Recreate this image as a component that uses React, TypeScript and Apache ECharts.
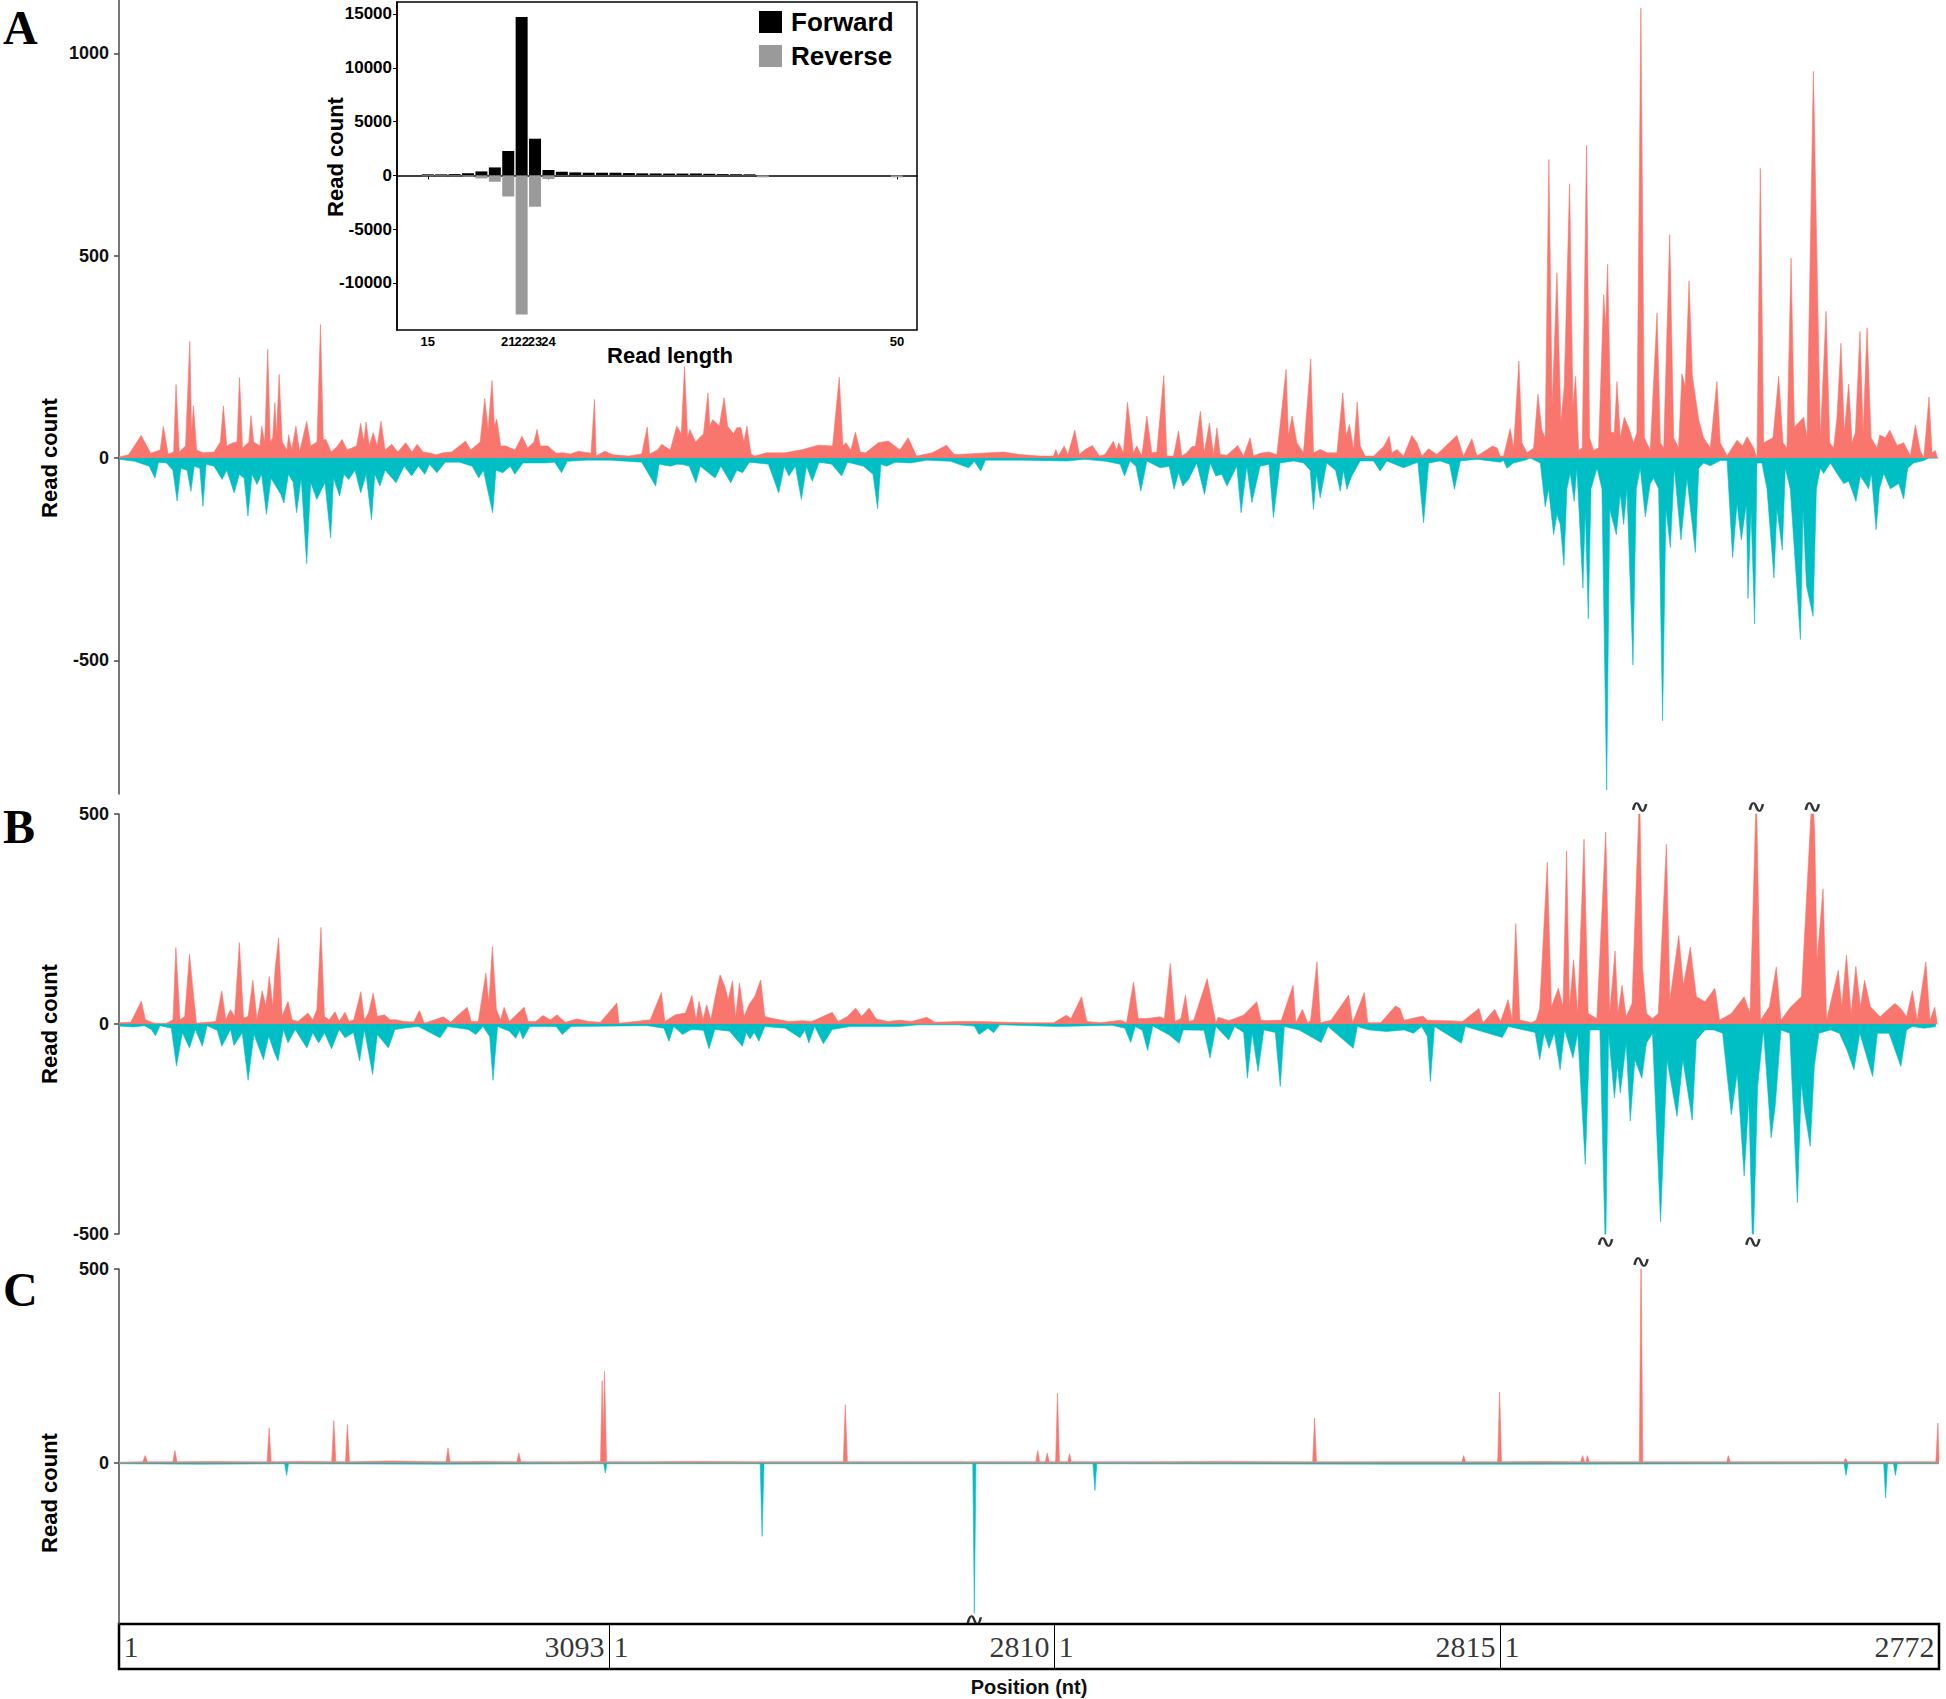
import React, { useEffect, useRef } from "react";
import * as echarts from "echarts";

const RED = "#F8766D";
const CYAN = "#00BFC4";
const SANS = '"Liberation Sans", Arial, sans-serif';
const SERIF = '"Liberation Serif", "Times New Roman", serif';

// genome segments (nt)
const segmentLengths = [3093, 2810, 2815, 2772];

// inset: read length distribution
const readLengths = [15, 16, 17, 18, 19, 20, 21, 22, 23, 24, 25, 26, 27, 28, 29, 30, 31, 32, 33, 34, 35, 36, 37, 38, 39, 40, 50];
const forwardCounts = [100, 100, 120, 200, 370, 740, 2260, 14720, 3410, 500, 340, 280, 250, 250, 250, 220, 190, 180, 170, 170, 180, 150, 120, 110, 100, 0, 0];
const reverseCounts = [-80, -80, -80, -120, -280, -590, -1950, -12920, -2910, -340, -40, -30, -30, -30, -30, -30, -30, -30, -30, -30, -30, -30, -30, -30, -30, -180, -180];
const insetLengthTicks = [15, 21, 22, 23, 24, 50];
const insetCountTicks = [-10000, -5000, 0, 5000, 10000, 15000];

// panel tick values
const aTicks = [-500, 0, 500, 1000];
const bTicks = [-500, 0, 500];
const cTicks = [0, 500];

// Panel A coverage (global position, read count)
const aForward: [number, number][] = [
  [0, 3], [60, 8], [140, 56], [200, 12], [260, 20], [280, 79], [310, 10], [345, 15], [360, 182], [380, 15], [420, 30], [447, 288], [458, 60], [470, 129], [490, 20], [530, 13], [600, 15], [640, 40], [659, 129], [680, 30], [720, 38], [745, 40], [761, 199], [780, 25], [820, 40], [833, 105], [850, 40], [890, 30], [901, 79], [920, 40], [939, 269], [955, 40], [970, 50], [984, 137], [995, 60], [1011, 207], [1030, 40], [1060, 20], [1071, 58], [1090, 20], [1117, 79], [1140, 15], [1185, 91], [1210, 30], [1250, 40], [1272, 330], [1290, 45], [1306, 46], [1340, 15], [1380, 30], [1408, 46], [1440, 20], [1500, 30], [1526, 86], [1545, 40], [1560, 89], [1580, 30], [1605, 63], [1630, 30], [1654, 91], [1680, 20], [1722, 34], [1760, 15], [1810, 38], [1850, 15], [1882, 34], [1920, 15], [1969, 12], [2000, 8], [2044, 13], [2100, 15], [2188, 42], [2220, 20], [2280, 40], [2309, 147], [2330, 70], [2355, 192], [2370, 80], [2385, 96], [2410, 30], [2442, 30], [2500, 20], [2544, 54], [2580, 25], [2620, 40], [2639, 71], [2660, 30], [2707, 30], [2760, 12], [2802, 13], [2850, 10], [2900, 17], [2980, 12], [3002, 145], [3012, 5], [3067, 17], [3120, 8], [3218, 5], [3300, 10], [3335, 77], [3350, 10], [3400, 20], [3426, 34], [3480, 20], [3521, 79], [3550, 60], [3570, 227], [3590, 50], [3604, 71], [3640, 40], [3690, 60], [3718, 161], [3730, 80], [3748, 95], [3790, 80], [3820, 149], [3842, 79], [3880, 60], [3900, 75], [3926, 75], [3945, 40], [3964, 79], [3990, 10], [4013, 5], [4089, 13], [4203, 13], [4316, 21], [4414, 32], [4505, 30], [4547, 200], [4570, 30], [4589, 38], [4620, 20], [4649, 64], [4680, 15], [4714, 13], [4793, 38], [4857, 42], [4930, 20], [4982, 50], [5035, 5], [5134, 13], [5224, 32], [5270, 10], [5300, 9], [5585, 15], [5680, 9], [5815, 5],
  [5900, 5], [5914, 21], [5930, 5], [5967, 30], [5990, 8], [6034, 69], [6063, 9], [6099, 21], [6145, 31], [6190, 5], [6225, 9], [6278, 42], [6297, 20], [6312, 38], [6341, 13], [6367, 138], [6404, 13], [6425, 30], [6457, 5], [6489, 104], [6520, 13], [6552, 15], [6596, 204], [6615, 5], [6657, 5], [6689, 67], [6710, 5], [6741, 13], [6773, 28], [6796, 30], [6827, 116], [6851, 13], [6884, 87], [6910, 5], [6931, 75], [6952, 9], [6994, 7], [7063, 31], [7099, 5], [7141, 50], [7162, 5], [7204, 12], [7257, 15], [7310, 9], [7368, 219], [7383, 54], [7406, 104], [7436, 38], [7478, 13], [7524, 245], [7541, 13], [7583, 21], [7630, 13], [7689, 13], [7726, 161], [7747, 54], [7768, 83], [7794, 21], [7817, 138], [7836, 30], [7867, 5], [7920, 5], [7983, 28], [8019, 54], [8036, 13], [8068, 21], [8110, 5], [8162, 56], [8194, 38], [8225, 5], [8267, 23], [8320, 9], [8446, 56], [8488, 5], [8541, 48], [8573, 5], [8672, 30],
  [8700, 25], [8720, 5], [8741, 5], [8783, 73], [8804, 25], [8838, 240], [8857, 38], [8889, 13], [8931, 25], [8958, 158], [8983, 69], [9004, 50], [9027, 738], [9048, 126], [9078, 458], [9103, 88], [9124, 177], [9158, 678], [9179, 126], [9196, 202], [9215, 19], [9238, 25], [9265, 773], [9284, 50], [9310, 19], [9341, 25], [9373, 404], [9385, 328], [9398, 479], [9419, 63], [9440, 63], [9457, 189], [9478, 50], [9503, 101], [9530, 76], [9562, 38], [9583, 63], [9608, 1112], [9630, 50], [9667, 19], [9710, 359], [9731, 38], [9752, 25], [9790, 552], [9815, 50], [9846, 25], [9867, 208], [9888, 177], [9912, 438], [9933, 202], [9973, 95], [10004, 50], [10046, 25], [10088, 189], [10109, 38], [10152, 6], [10215, 44], [10250, 30], [10278, 53], [10320, 25], [10341, 0], [10362, 716], [10383, 38], [10442, 50], [10478, 202], [10505, 38], [10530, 25], [10556, 494], [10577, 76], [10636, 101], [10657, 50], [10697, 956], [10720, 479], [10741, 50], [10777, 363], [10800, 38], [10825, 25], [10846, 101], [10871, 284], [10892, 63], [10920, 183], [10941, 38], [10962, 63], [10991, 313], [11011, 63], [11036, 322], [11061, 50], [11099, 25], [11116, 57], [11151, 50], [11179, 69], [11225, 31], [11267, 38], [11309, 6], [11341, 82], [11372, 19], [11394, 0], [11427, 151], [11446, 13], [11467, 19], [11480, 0],
];

const aReverse: [number, number][] = [
  [0, -3], [100, -8], [190, -20], [227, -49], [250, -10], [300, -12], [340, -30], [367, -106], [390, -25], [430, -30], [454, -82], [475, -20], [510, -25], [530, -119], [550, -15], [600, -20], [651, -53], [680, -30], [727, -86], [760, -40], [790, -50], [814, -143], [840, -40], [871, -65], [900, -40], [931, -139], [960, -50], [1022, -90], [1041, -111], [1070, -40], [1100, -60], [1121, -135], [1150, -50], [1185, -261], [1210, -60], [1249, -102], [1300, -60], [1336, -197], [1355, -50], [1393, -94], [1420, -40], [1450, -53], [1490, -30], [1526, -86], [1560, -40], [1594, -152], [1615, -40], [1647, -69], [1680, -30], [1749, -61], [1800, -20], [1848, -44], [1890, -20], [1931, -40], [1960, -15], [2007, -36], [2060, -10], [2150, -10], [2230, -20], [2271, -49], [2300, -30], [2359, -135], [2380, -30], [2423, -36], [2470, -20], [2499, -40], [2550, -12], [2688, -12], [2750, -10], [2794, -36], [2830, -8], [2950, -5], [3100, -5], [3300, -10], [3388, -69], [3410, -15], [3483, -20], [3520, -15], [3559, -16], [3600, -20], [3642, -61], [3670, -20], [3763, -49], [3800, -20], [3862, -61], [3900, -30], [3937, -36], [3980, -10], [4100, -15], [4165, -86], [4200, -20], [4229, -44], [4270, -20], [4308, -102], [4340, -20], [4377, -57], [4420, -10], [4500, -15], [4562, -44], [4600, -10], [4700, -20], [4760, -40], [4789, -125], [4810, -15], [4846, -20], [4900, -10], [4997, -12], [5100, -5], [5250, -8], [5365, -24], [5400, -8], [5440, -32], [5470, -5], [5700, -5],
  [5983, -7], [6100, -3], [6230, -8], [6320, -15], [6348, -44], [6383, -7], [6420, -20], [6451, -82], [6489, -7], [6573, -24], [6630, -20], [6661, -77], [6689, -36], [6716, -69], [6752, -53], [6804, -12], [6853, -90], [6889, -12], [6924, -44], [6962, -40], [6995, -69], [7057, -20], [7084, -135], [7120, -20], [7152, -110], [7204, -20], [7260, -15], [7288, -147], [7330, -12], [7415, -7], [7478, -12], [7520, -30], [7541, -127], [7560, -40], [7583, -98], [7625, -12], [7680, -30], [7710, -82], [7730, -30], [7752, -77], [7783, -44], [7836, -7], [7920, -7], [7962, -32], [8004, -7], [8109, -24], [8200, -10], [8236, -160], [8268, -12], [8341, -7], [8400, -15], [8431, -77], [8468, -7], [8573, -3], [8720, -10],
  [8741, -6], [8762, -25], [8804, -12], [8868, -6], [8910, 0], [8973, -12], [9004, -120], [9025, -76], [9057, -189], [9078, -139], [9099, -164], [9122, -265], [9141, -76], [9162, -38], [9187, -107], [9204, -25], [9242, -321], [9257, -126], [9276, -397], [9293, -76], [9331, -25], [9362, -76], [9392, -820], [9411, -126], [9453, -189], [9478, -88], [9499, -164], [9520, -76], [9558, -511], [9579, -76], [9604, -25], [9636, -145], [9667, -63], [9688, -50], [9720, -76], [9745, -649], [9766, -126], [9794, -221], [9819, -25], [9861, -202], [9899, -50], [9952, -233], [9973, -25], [10004, -12], [10046, -19], [10109, -6], [10152, -6], [10187, -246], [10215, -113], [10242, -202], [10274, -113], [10284, -347], [10303, -126], [10326, -410], [10341, -12], [10372, -12], [10404, -76], [10448, -296], [10467, -126], [10501, -227], [10520, -25], [10551, -76], [10615, -448], [10632, -126], [10653, -315], [10695, -391], [10716, -76], [10741, -25], [10762, -38], [10804, -12], [10846, -38], [10888, -63], [10920, -57], [10966, -107], [10993, -44], [11046, -76], [11063, -38], [11093, -177], [11114, -76], [11141, -38], [11183, -76], [11236, -63], [11267, -101], [11292, -25], [11330, -12], [11394, -6], [11425, 0], [11480, 0],
];

// Panel B coverage
const bForward: [number, number][] = [
  [0, 3], [74, 4], [141, 54], [167, 10], [222, 2], [296, 1], [341, 10], [359, 182], [385, 10], [415, 18], [445, 166], [471, 66], [489, 2], [556, 4], [611, 6], [649, 79], [674, 10], [704, 34], [730, 18], [760, 194], [786, 14], [815, 18], [845, 104], [871, 10], [904, 79], [927, 42], [949, 113], [971, 42], [986, 134], [1008, 205], [1030, 18], [1067, 54], [1093, 10], [1130, 6], [1193, 26], [1223, 10], [1249, 34], [1275, 230], [1297, 18], [1327, 10], [1364, 29], [1390, 6], [1427, 28], [1453, 6], [1482, 10], [1527, 77], [1549, 10], [1575, 26], [1605, 73], [1631, 18], [1675, 22], [1712, 10], [1749, 10], [1797, 6], [1860, 5], [1897, 32], [1927, 2], [2049, 17], [2094, 4], [2149, 24], [2198, 40], [2224, 6], [2268, 6], [2316, 121], [2335, 50], [2357, 184], [2383, 34], [2409, 10], [2431, 40], [2464, 6], [2520, 26], [2557, 40], [2583, 6], [2631, 6], [2676, 20], [2724, 10], [2765, 22], [2817, 4], [2891, 12], [2965, 6], [3039, 4], [3143, 50], [3157, 2], [3261, 6], [3354, 10], [3424, 75], [3446, 6], [3513, 22], [3576, 26], [3617, 68], [3643, 10], [3662, 54], [3687, 10], [3710, 46], [3736, 10], [3773, 81], [3795, 117], [3825, 89], [3846, 58], [3873, 103], [3892, 14], [3917, 97], [3947, 18], [3977, 46], [4014, 66], [4051, 105], [4077, 18], [4114, 14], [4225, 6], [4317, 8], [4373, 6], [4503, 28], [4540, 6], [4596, 17], [4651, 38], [4688, 18], [4736, 38], [4781, 12], [4855, 6], [4929, 9], [5003, 6], [5100, 16], [5151, 4], [5300, 6], [5430, 6], [5600, 4], [5750, 3],
  [5900, 3], [5981, 21], [6010, 13], [6077, 65], [6110, 6], [6195, 3], [6324, 9], [6361, 3], [6405, 100], [6434, 13], [6490, 13], [6571, 17], [6600, 13], [6637, 144], [6667, 6], [6704, 13], [6733, 69], [6755, 6], [6785, 9], [6870, 108], [6896, 57], [6925, 3], [6940, 16], [7006, 8], [7099, 21], [7183, 53], [7209, 9], [7246, 8], [7301, 9], [7338, 9], [7412, 92], [7430, 3], [7471, 35], [7504, 3], [7523, 9], [7563, 148], [7585, 3], [7652, 9], [7763, 69], [7788, 3], [7862, 75], [7884, 3], [7965, 3], [8058, 43], [8087, 37], [8113, 9], [8231, 19], [8260, 9], [8371, 8], [8482, 6], [8585, 37], [8611, 3], [8685, 35], [8722, 6], [8770, 58], [8795, 9], [8818, 239], [8844, 9], [8888, 6], [8917, 3], [8947, 9], [8969, 37], [9017, 385], [9043, 41], [9087, 85], [9116, 41], [9139, 412], [9157, 41], [9183, 153], [9209, 25], [9249, 440], [9275, 25], [9330, 13], [9386, 457], [9411, 25], [9445, 174], [9463, 25], [9489, 92], [9515, 17], [9552, 49], [9600, 560], [9618, 136], [9643, 25], [9681, 13], [9718, 25], [9769, 428], [9791, 57], [9847, 211], [9876, 92], [9920, 183], [9958, 65], [10013, 53], [10075, 85], [10105, 9], [10179, 25], [10260, 65], [10297, 25], [10337, 560], [10363, 9], [10419, 41], [10463, 136], [10492, 9], [10555, 41], [10621, 65], [10690, 560], [10705, 460], [10720, 150], [10758, 322], [10780, 9], [10854, 128], [10876, 41], [10906, 164], [10935, 25], [10965, 137], [10994, 41], [11020, 104], [11057, 41], [11119, 17], [11175, 37], [11212, 49], [11249, 37], [11285, 17], [11322, 79], [11352, 9], [11407, 148], [11433, 9], [11463, 40], [11478, 3],
];

const bReverse: [number, number][] = [
  [0, -5], [93, -7], [160, -4], [204, -13], [230, -28], [259, -4], [330, -10], [363, -100], [400, -21], [445, -57], [482, -13], [526, -53], [556, -4], [620, -15], [649, -53], [704, -13], [726, -51], [778, -21], [815, -134], [852, -25], [912, -85], [945, -29], [982, -69], [1004, -88], [1038, -13], [1067, -45], [1112, -13], [1186, -57], [1223, -21], [1260, -45], [1297, -21], [1342, -59], [1390, -13], [1427, -33], [1480, -20], [1519, -88], [1549, -13], [1601, -120], [1631, -25], [1701, -57], [1742, -13], [1816, -9], [1890, -6], [2027, -33], [2075, -6], [2205, -13], [2253, -25], [2298, -6], [2340, -30], [2361, -134], [2390, -6], [2464, -17], [2505, -34], [2530, -15], [2550, -36], [2594, -6], [2760, -6], [2798, -25], [2854, -6], [3335, -4], [3440, -10], [3472, -41], [3502, -6], [3558, -25], [3613, -13], [3690, -15], [3725, -59], [3762, -13], [3854, -17], [3936, -53], [3960, -20], [3984, -36], [4010, -20], [4040, -41], [4077, -6], [4206, -10], [4299, -33], [4330, -15], [4355, -45], [4392, -6], [4447, -47], [4503, -13], [4614, -6], [4799, -6], [4929, -6], [5040, -2], [5300, -2], [5400, -5], [5429, -25], [5485, -10], [5522, -21], [5559, -2],
  [5936, -6], [6269, -3], [6350, -10], [6387, -44], [6416, -6], [6460, -15], [6494, -63], [6527, -5], [6630, -26], [6693, -46], [6719, -14], [6850, -15], [6888, -81], [6925, -6], [7006, -38], [7043, -6], [7100, -20], [7124, -129], [7154, -22], [7191, -113], [7228, -14], [7300, -20], [7331, -149], [7357, -6], [7449, -14], [7589, -44], [7633, -6], [7792, -58], [7818, -6], [7892, -14], [8002, -18], [8113, -14], [8172, -22], [8224, -6], [8260, -30], [8279, -137], [8305, -6], [8475, -46], [8500, -6], [8733, -32], [8770, -6], [8940, -20], [8969, -85], [8998, -22], [9028, -58], [9061, -22], [9098, -109], [9127, -14], [9179, -81], [9209, -22], [9257, -334], [9286, -14], [9349, -14], [9385, -560], [9404, -22], [9441, -176], [9460, -100], [9478, -164], [9515, -46], [9541, -231], [9570, -85], [9614, -129], [9643, -46], [9681, -22], [9732, -471], [9773, -85], [9836, -220], [9873, -85], [9932, -229], [9958, -38], [10013, -14], [10068, -14], [10124, -22], [10179, -216], [10216, -117], [10260, -362], [10289, -180], [10315, -560], [10345, -149], [10382, -14], [10430, -271], [10456, -196], [10492, -14], [10548, -22], [10596, -425], [10621, -140], [10640, -204], [10677, -291], [10703, -100], [10732, -22], [10806, -14], [10861, -22], [10909, -62], [10953, -109], [10990, -22], [11071, -125], [11101, -22], [11175, -22], [11249, -101], [11285, -14], [11322, -6], [11396, -10], [11470, -6],
];

// Panel C coverage
const cForward: [number, number][] = [
  [0, 2], [150, 3], [165, 19], [180, 3], [340, 3], [353, 32], [366, 3], [600, 4], [800, 3], [935, 3], [948, 90], [960, 3], [1200, 4], [1343, 3], [1356, 109], [1369, 3], [1430, 3], [1442, 99], [1455, 3], [1700, 5], [2065, 3], [2077, 39], [2090, 3], [2300, 4], [2512, 3], [2524, 26], [2537, 3], [2800, 3], [3040, 4], [3050, 212], [3058, 70], [3065, 236], [3078, 3], [3300, 3], [3600, 4], [4000, 3], [4573, 3], [4585, 150], [4598, 3], [5000, 3], [5600, 3], [5788, 3], [5800, 32], [5812, 3], [5848, 3], [5860, 26], [5872, 3], [5913, 3], [5925, 180], [5937, 3], [5990, 3], [6000, 24], [6012, 3], [6500, 3], [7000, 4], [7536, 3], [7548, 116], [7560, 3], [8000, 3], [8478, 3], [8489, 19], [8501, 3], [8704, 3], [8716, 183], [8728, 3], [9000, 4], [9228, 3], [9240, 19], [9252, 3], [9262, 3], [9270, 19], [9282, 3], [9598, 3], [9609, 560], [9620, 3], [10000, 3], [10150, 3], [10160, 19], [10172, 3], [10500, 3], [10890, 3], [10900, 12], [10912, 3], [11200, 3], [11470, 3], [11483, 103], [11490, 3],
];

const cReverse: [number, number][] = [
  [0, -2], [500, -3], [1046, -2], [1058, -32], [1070, -2], [2000, -3], [3060, -2], [3070, -26], [3080, -2], [4048, -2], [4060, -189], [4072, -2], [5390, -2], [5400, -387], [5410, -2], [6149, -2], [6161, -71], [6173, -2], [8000, -3], [9000, -3], [10891, -2], [10903, -32], [10915, -2], [11141, -2], [11153, -90], [11165, -2], [11203, -2], [11215, -32], [11227, -2], [11490, -2],
];

// axis-break markers (peaks clipped by the panel's range)
const bBreaksTop = [9600, 10337, 10690];
const bBreaksBottom = [9385, 10315];
const cBreaksTop = [9609];
const cBreaksBottom: [number, number][] = [[5400, -387]];

const BREAK_PATH = "path://M0,6 C2,0 5,0 7,4 C9,8 12,8 14,2";

const plain = (v: number) => String(v);

export default function App() {
  const ref = useRef<HTMLDivElement>(null);

  useEffect(() => {
    const el = ref.current;
    if (!el) return;
    const chart = echarts.init(el, null, { renderer: "svg" });

    const total = segmentLengths.reduce((s, v) => s + v, 0);
    const bounds: number[] = [0];
    segmentLengths.forEach((l) => bounds.push(bounds[bounds.length - 1] + l));

    const mainY = (min: number, max: number, ticks: number[]) => ({
      type: "value",
      min,
      max,
      axisLine: { show: true, lineStyle: { color: "#4a4a4a", width: 1.5 } },
      axisTick: { show: true, length: 5, customValues: ticks, lineStyle: { color: "#4a4a4a", width: 1.5 } },
      axisLabel: {
        customValues: ticks,
        formatter: plain,
        fontFamily: SANS,
        fontWeight: "bold",
        fontSize: 18,
        color: "#111",
        margin: 10,
      },
      splitLine: { show: false },
    });
    const hiddenX = (grid: number) => ({ type: "value", gridIndex: grid, min: 0, max: total, show: false });

    const area = (data: [number, number][], color: string, idx: number) => ({
      type: "line",
      xAxisIndex: idx,
      yAxisIndex: idx,
      data,
      symbol: "none",
      showSymbol: false,
      clip: true,
      z: 3,
      lineStyle: { color, width: 0.6 },
      areaStyle: { color, opacity: 1 },
      silent: true,
    });
    const baseline = (idx: number) => ({
      type: "line",
      xAxisIndex: idx,
      yAxisIndex: idx,
      data: [[0, 0], [total, 0]],
      symbol: "none",
      z: 2,
      lineStyle: { color: "#e4e4e4", width: 2 },
      silent: true,
    });
    const breaks = (idx: number, pts: number[][], offset: number) => ({
      type: "scatter",
      xAxisIndex: idx,
      yAxisIndex: idx,
      data: pts,
      symbol: BREAK_PATH,
      symbolSize: [13, 8],
      symbolOffset: [0, offset],
      clip: false,
      z: 6,
      itemStyle: { color: "none", borderColor: "#000", borderWidth: 2 },
      silent: true,
    });

    const boxLabels: any[] = [];
    for (let i = 0; i < segmentLengths.length; i++) {
      boxLabels.push({ value: [bounds[i], 0.5], label: { formatter: "1", position: "right", distance: 4 } });
      boxLabels.push({ value: [bounds[i + 1], 0.5], label: { formatter: String(segmentLengths[i]), position: "left", distance: 4 } });
    }

    const aMin = -830, aMax = 1132;
    const cMin = -415;

    const textStyle = (text: string, size: number, family: string) => ({
      text,
      fontFamily: family,
      fontWeight: "bold",
      fontSize: size,
      fill: "#000",
      align: "center",
      verticalAlign: "middle",
      textAlign: "center",
      textVerticalAlign: "middle",
    });

    const option: any = {
      animation: false,
      backgroundColor: "#fff",
      grid: [
        { left: 119, top: 0, width: 1820, height: 794 },
        { left: 119, top: 814, width: 1820, height: 420 },
        { left: 119, top: 1269, width: 1820, height: 355 },
        { left: 397, top: 2, width: 520, height: 328, show: true, backgroundColor: "#fff", borderColor: "#000", borderWidth: 1.5, z: 10 },
        { left: 119, top: 1624, width: 1820, height: 45, show: true, backgroundColor: "#fff", borderColor: "#000", borderWidth: 2.5 },
      ],
      xAxis: [
        hiddenX(0),
        hiddenX(1),
        hiddenX(2),
        {
          type: "value",
          gridIndex: 3,
          min: 12.7,
          max: 51.5,
          z: 11,
          axisLine: { show: true, lineStyle: { color: "#000", width: 1.5 } },
          axisTick: { show: true, length: 4, customValues: insetLengthTicks, lineStyle: { color: "#000" } },
          axisLabel: {
            customValues: insetLengthTicks,
            formatter: plain,
            fontFamily: '"Liberation Sans Narrow", "Arial Narrow", ' + SANS,
            fontWeight: "bold",
            fontSize: 13,
            color: "#000",
            margin: 5,
          },
          splitLine: { show: false },
        },
        {
          type: "value",
          gridIndex: 4,
          min: 0,
          max: total,
          axisLine: { show: false },
          axisTick: { show: false },
          axisLabel: { show: false },
          splitLine: { show: false },
          name: "Position (nt)",
          nameLocation: "middle",
          nameGap: 8,
          nameTextStyle: { fontFamily: SANS, fontWeight: "bold", fontSize: 20, color: "#111", verticalAlign: "top" },
        },
      ],
      yAxis: [
        { ...mainY(aMin, aMax, aTicks), gridIndex: 0 },
        { ...mainY(-500, 500, bTicks), gridIndex: 1 },
        { ...mainY(cMin, 500, cTicks), gridIndex: 2 },
        {
          type: "value",
          gridIndex: 3,
          min: -14368,
          max: 16115,
          z: 11,
          axisLine: { show: true, lineStyle: { color: "#000", width: 1.5 } },
          axisTick: { show: true, length: 4, customValues: insetCountTicks, lineStyle: { color: "#000" } },
          axisLabel: {
            customValues: insetCountTicks,
            formatter: plain,
            fontFamily: SANS,
            fontWeight: "bold",
            fontSize: 17,
            color: "#000",
            margin: 5,
          },
          splitLine: { show: false },
        },
        { type: "value", gridIndex: 4, min: 0, max: 1, show: false },
      ],
      legend: {
        data: ["Forward", "Reverse"],
        orient: "vertical",
        left: 754,
        top: 4,
        itemWidth: 23,
        itemHeight: 22,
        itemGap: 8,
        icon: "rect",
        z: 12,
        textStyle: { fontFamily: SANS, fontWeight: "bold", fontSize: 26, color: "#000", padding: [0, 0, 0, 4] },
      },
      series: [
        baseline(0),
        baseline(1),
        baseline(2),
        area(aForward, RED, 0),
        area(aReverse, CYAN, 0),
        area(bForward, RED, 1),
        area(bReverse, CYAN, 1),
        area(cForward, RED, 2),
        area(cReverse, CYAN, 2),
        breaks(1, bBreaksTop.map((x) => [x, 500]), -7),
        breaks(1, bBreaksBottom.map((x) => [x, -500]), 8),
        breaks(2, cBreaksTop.map((x) => [x, 500]), -7),
        breaks(2, cBreaksBottom, 7),
        {
          name: "Forward",
          type: "bar",
          xAxisIndex: 3,
          yAxisIndex: 3,
          data: readLengths.map((l, i) => [l, forwardCounts[i]]),
          barWidth: 12,
          barGap: "-100%",
          z: 12,
          itemStyle: { color: "#000" },
        },
        {
          name: "Reverse",
          type: "bar",
          xAxisIndex: 3,
          yAxisIndex: 3,
          data: readLengths.map((l, i) => [l, reverseCounts[i]]),
          barWidth: 12,
          barGap: "-100%",
          z: 12,
          itemStyle: { color: "#9a9a9a" },
        },
        {
          type: "scatter",
          xAxisIndex: 4,
          yAxisIndex: 4,
          data: boxLabels,
          symbolSize: 1,
          itemStyle: { color: "rgba(0,0,0,0)" },
          clip: false,
          silent: true,
          label: { show: true, fontFamily: SERIF, fontSize: 30, color: "#000" },
          markLine: {
            silent: true,
            symbol: "none",
            label: { show: false },
            lineStyle: { color: "#000", width: 1, type: "solid" },
            data: bounds.slice(1, -1).map((b) => ({ xAxis: b })),
          },
        },
      ],
      graphic: [
        { type: "text", x: 3, y: 27, style: { ...textStyle("A", 48, SERIF), align: "left", textAlign: "left" } },
        { type: "text", x: 3, y: 826, style: { ...textStyle("B", 48, SERIF), align: "left", textAlign: "left" } },
        { type: "text", x: 3, y: 1289, style: { ...textStyle("C", 48, SERIF), align: "left", textAlign: "left" } },
        { type: "text", x: 49, y: 458, rotation: Math.PI / 2, style: textStyle("Read count", 22, SANS) },
        { type: "text", x: 49, y: 1024, rotation: Math.PI / 2, style: textStyle("Read count", 22, SANS) },
        { type: "text", x: 49, y: 1493, rotation: Math.PI / 2, style: textStyle("Read count", 22, SANS) },
        { type: "text", x: 335, y: 157, z: 20, rotation: Math.PI / 2, style: textStyle("Read count", 22, SANS) },
        { type: "text", x: 670, y: 355, z: 20, style: textStyle("Read length", 22, SANS) },
      ],
    };

    chart.setOption(option);
    return () => chart.dispose();
  }, []);

  return (
    <div
      ref={ref}
      style={{ position: "absolute", left: 0, top: 0, width: 1946, height: 1699, background: "#fff" }}
    />
  );
}
